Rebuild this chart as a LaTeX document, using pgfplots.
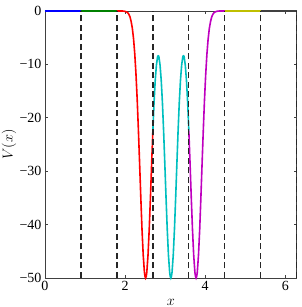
\documentclass[border=0pt]{standalone}
\usepackage{pgfplots}
\pgfplotsset{compat=1.18}
\usepackage{fontspec}
\setmainfont{Liberation Serif}
\definecolor{mb}{rgb}{0,0,1}
\definecolor{mg}{rgb}{0,0.5,0}
\definecolor{mr}{rgb}{1,0,0}
\definecolor{mc}{rgb}{0,0.75,0.75}
\definecolor{mm}{rgb}{0.75,0,0.75}
\definecolor{my}{rgb}{0.75,0.75,0}
\definecolor{mk}{rgb}{0.25,0.25,0.25}
\begin{document}
\begin{tikzpicture}
\useasboundingbox (-45pt,-29pt) rectangle (256pt,278pt);
\begin{axis}[
  at={(0,0)}, anchor=south west,
  scale only axis, width=251.7pt, height=267pt,
  xmin=0, xmax=6.2832, ymin=-50, ymax=0,
  xtick={0,2,4,6}, xticklabels={0,2,4,6},
  ytick={-50,-40,-30,-20,-10,0}, yticklabels={−50,−40,−30,−20,−10,0},
  tick align=inside, major tick length=3pt,
  axis line style={black!75, line width=0.7pt},
  tick style={black!75, line width=0.7pt},
  tick label style={font=\fontsize{14}{16}\selectfont},
  label style={font=\fontsize{14}{16}\selectfont},
  xlabel={$x$}, ylabel={$V(x)$},
  xlabel style={at={(axis description cs:0.5,-0.09)}, anchor=center},
  ylabel style={at={(axis description cs:-0.143,0.5)}, anchor=center},
  clip=false,
]
\addplot[mb, line width=1.6pt] coordinates {(0,0) (0.8976,0)};
\addplot[mg, line width=1.6pt] coordinates {(0.8976,0) (1.7952,0)};
\addplot[mr, line width=1.6pt] coordinates {
(1.7952,0) (1.9116,0) (1.9416,-0.01) (1.9716,-0.03) (2.0016,-0.08) (2.0316,-0.16)
(2.0616,-0.3) (2.0916,-0.6) (2.1216,-1.1) (2.1516,-2.0) (2.1816,-3.3) (2.2116,-5.3)
(2.2416,-8.1) (2.2716,-11.9) (2.3016,-16.6) (2.3316,-22.3) (2.3616,-28.5) (2.3916,-34.9)
(2.4216,-40.9) (2.4516,-45.7) (2.4816,-48.9) (2.4966,-49.7) (2.5116,-50.0) (2.5266,-49.7) (2.5416,-48.9)
(2.5716,-45.7) (2.6016,-40.9) (2.6316,-35.0) (2.6616,-28.7) (2.6928,-22.4)};
\addplot[mc, line width=1.6pt] coordinates {
(2.6928,-22.4) (2.7216,-17.2) (2.7516,-13.0) (2.7816,-10.1) (2.8116,-8.5) (2.8266,-8.4)
(2.8416,-8.5) (2.8716,-10.1) (2.9016,-13.0) (2.9316,-17.2) (2.9616,-22.6) (2.9916,-28.7)
(3.0216,-35.0) (3.0516,-40.9) (3.0816,-45.7) (3.1116,-48.9) (3.1266,-49.7) (3.1416,-50.0) (3.1566,-49.7) (3.1716,-48.9)
(3.2016,-45.7) (3.2316,-40.9) (3.2616,-35.0) (3.2916,-28.7) (3.3216,-22.6) (3.3516,-17.2)
(3.3816,-13.0) (3.4116,-10.1) (3.4416,-8.5) (3.4566,-8.4) (3.4716,-8.5) (3.5016,-10.1)
(3.5316,-13.0) (3.5616,-17.2) (3.5904,-22.4)};
\addplot[mm, line width=1.6pt] coordinates {
(3.5904,-22.4) (3.6216,-28.7) (3.6516,-35.0) (3.6816,-40.9) (3.7116,-45.7) (3.7416,-48.9) (3.7566,-49.7)
(3.7716,-50.0) (3.7866,-49.7) (3.8016,-48.9) (3.8316,-45.7) (3.8616,-40.9) (3.8916,-34.9) (3.9216,-28.5)
(3.9516,-22.3) (3.9816,-16.6) (4.0116,-11.9) (4.0416,-8.1) (4.0716,-5.3) (4.1016,-3.3)
(4.1316,-2.0) (4.1616,-1.1) (4.1916,-0.6) (4.2216,-0.3) (4.2516,-0.16) (4.2816,-0.08)
(4.3116,-0.03) (4.3416,-0.01) (4.3716,0) (4.4880,0)};
\addplot[my, line width=1.6pt] coordinates {(4.4880,0) (5.3856,0)};
\addplot[mk, line width=1.6pt] coordinates {(5.3856,0) (6.2832,0)};
\foreach \xv in {0.8976,1.7952,2.6928,3.5904,4.4880,5.3856,6.2832} {
  \edef\tmp{\noexpand\addplot[black!85, line width=1.3pt, dash pattern=on 6pt off 3.5pt] coordinates {(\xv,-50) (\xv,0)};}
  \tmp
}
\end{axis}
\end{tikzpicture}
\end{document}
